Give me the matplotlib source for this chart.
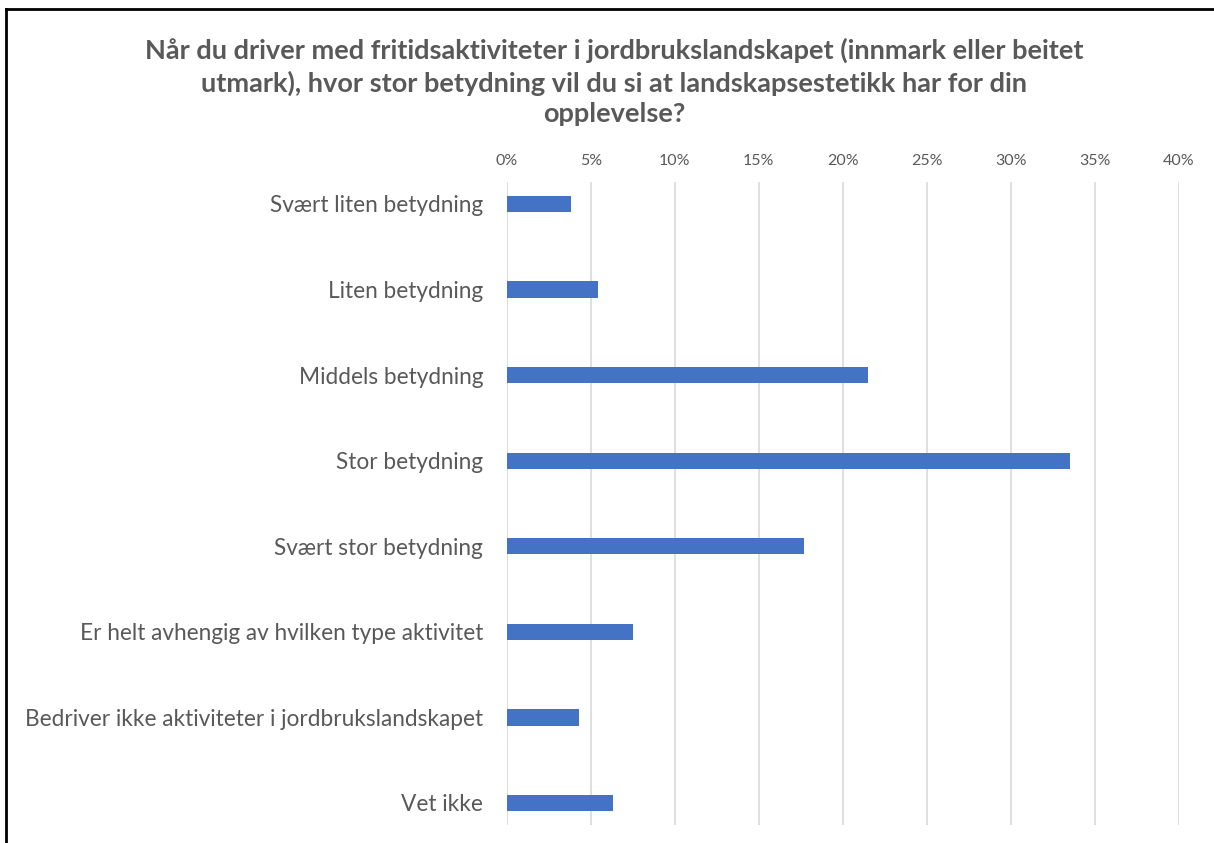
import matplotlib.pyplot as plt
from matplotlib.lines import Line2D
from matplotlib.ticker import FuncFormatter

# Daten
kategorier = ["Svært liten betydning", "Liten betydning", "Middels betydning",
              "Stor betydning", "Svært stor betydning",
              "Er helt avhengig av hvilken type aktivitet",
              "Bedriver ikke aktiviteter i jordbrukslandskapet", "Vet ikke"]
andel = [3.8, 5.4, 21.5, 33.5, 17.7, 7.5, 4.3, 6.3]
x_ticks = [0, 5, 10, 15, 20, 25, 30, 35, 40]

tittel = ("Når du driver med fritidsaktiviteter i jordbrukslandskapet (innmark eller beitet\n"
          "utmark), hvor stor betydning vil du si at landskapsestetikk har for din\n"
          "opplevelse?")

plt.rcParams['font.family'] = ['Lato', 'DejaVu Sans']
grau = '#595959'

fig = plt.figure(figsize=(12.14, 8.43), dpi=100)
ax = fig.add_axes([0.4175, 0.0214, 0.9711 - 0.4175, 0.7841 - 0.0214])

pos = list(range(len(kategorier)))
ax.barh(pos, andel, height=0.19, color='#4472C4', zorder=3)

ax.set_xlim(0, 40)
ax.set_ylim(7.257, -0.257)
ax.set_xticks(x_ticks)
ax.xaxis.set_major_formatter(FuncFormatter(lambda v, p: f"{v:.0f}%"))
ax.xaxis.tick_top()
ax.set_yticks(pos)
ax.set_yticklabels(kategorier, fontsize=16.3, color=grau)
ax.tick_params(axis='x', length=0, pad=10, labelsize=11.5, labelcolor=grau)
ax.tick_params(axis='y', length=0, pad=17)
ax.grid(True, axis='x', color='#d9d9d9', linewidth=1.2, zorder=0)
for s in ax.spines.values():
    s.set_visible(False)

fig.text(0.506, 0.9027, tittel, ha='center', va='center', fontsize=19.5,
         fontweight='bold', color=grau, linespacing=1.32)

# Rahmen oben und links
fig.add_artist(Line2D([0.0052, 1], [0.9898, 0.9898], color='black', lw=2))
fig.add_artist(Line2D([0.0052, 0.0052], [0, 0.9898], color='black', lw=2))

fig.savefig("out.png", dpi=100)
